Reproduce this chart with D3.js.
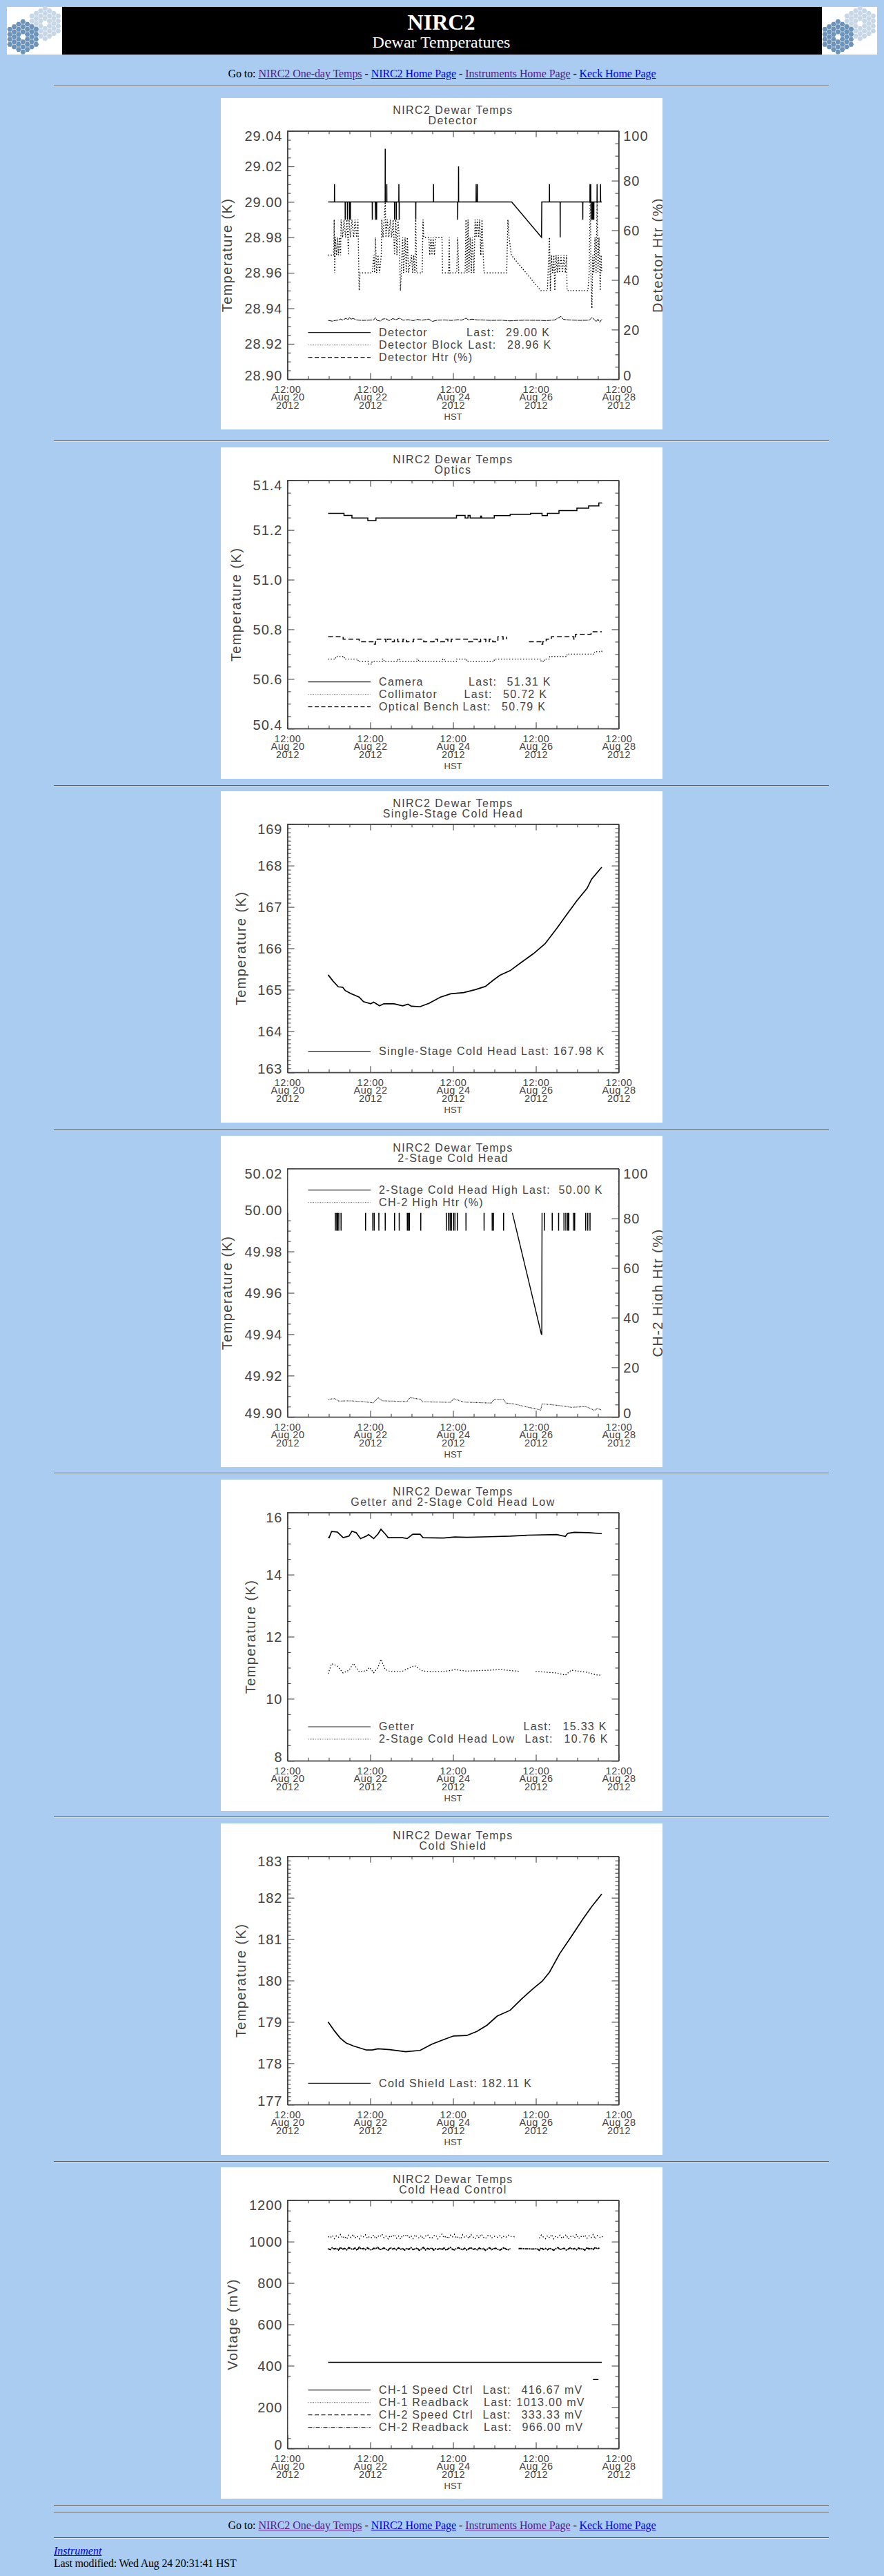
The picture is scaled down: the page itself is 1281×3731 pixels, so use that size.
<!DOCTYPE html>
<html><head><meta charset="utf-8"><title>NIRC2 Dewar Temperatures</title>
<script src="https://cdn.jsdelivr.net/npm/d3@7/dist/d3.min.js"></script>
<style>
html,body{margin:0;padding:0;background:#a9ccf0;width:1281px;height:3731px;overflow:hidden;font-family:"Liberation Serif",serif;font-size:16px;color:#000}
svg{position:absolute;left:0;top:0}
.nav{position:absolute;left:0;width:1281px;text-align:center;line-height:18px;letter-spacing:-.07px}
.nav a,.foot a{color:#00e}.nav a.v{color:#551a8b}
.foot{position:absolute;left:78px;line-height:18px}
.hr{position:absolute;left:78px;width:1123px;height:1px;background:#555;border-bottom:1px solid #d8e4ee}
.plot text{font-family:"Liberation Sans",sans-serif;fill:#444;stroke:none}
.plot .tickl{font-size:20px;letter-spacing:1px}
.plot .xl{font-size:14.5px;letter-spacing:.5px}
.plot .ttl{font-size:16px;letter-spacing:1.45px}
.plot .lg{font-size:16px;letter-spacing:1.3px}
.plot .ax{font-size:20px;letter-spacing:1.4px}
.plot .tick line,.plot .domain{stroke:#444;stroke-width:1.1}
</style></head><body>
<div class="nav" style="top:98px">Go to: <a class="v" href="#">NIRC2 One-day Temps</a> - <a href="#">NIRC2 Home Page</a> - <a class="v" href="#">Instruments Home Page</a> - <a href="#">Keck Home Page</a></div>
<div class="nav" style="top:3649px">Go to: <a class="v" href="#">NIRC2 One-day Temps</a> - <a href="#">NIRC2 Home Page</a> - <a class="v" href="#">Instruments Home Page</a> - <a href="#">Keck Home Page</a></div>
<div class="foot" style="top:3686px"><a href="#"><i>Instrument</i></a></div>
<div class="foot" style="top:3704px;letter-spacing:-.2px">Last modified: Wed Aug 24 20:31:41 HST</div>
<script>
// ---------- shared axis text ----------
const xTickHours=[0,48,96,144,192];
const xTickClock=["12:00","12:00","12:00","12:00","12:00"];
const xTickDates=["Aug 20","Aug 22","Aug 24","Aug 26","Aug 28"];
const xTickYears=["2012","2012","2012","2012","2012"];

// ---------- Detector ----------
const detectorUp=[[27.3,29.01],[56.7,29.03],[57.6,29.01],[64.6,29.01],[84.7,29.01],[99.2,29.02],[109.4,29.01],[110.1,29.01],[151.9,29.01],[175.4,29.01],[175.8,29.01],[179.5,29.01],[181.5,29.01]];
const detectorDown=[[33.5,28.99],[34.8,28.99],[36,28.99],[36.5,28.99],[49.2,28.99],[51,28.99],[51.7,28.99],[62.1,28.99],[63.1,28.99],[64.8,28.99],[74.4,28.99],[98.7,28.99],[158.1,28.98],[171.2,28.99],[176.3,28.99],[176.8,28.99],[177.1,28.99],[177.6,28.99]];
const detectorDrop=[[130,29],[147.3,28.98],[147.45,29]];
const detectorBlock=[[23.6,28.97],[26.9,28.97],[27.1,28.99],[27.4,28.96],[27.8,28.98],[28.5,28.97],[29,28.98],[29.6,28.97],[30.1,28.98],[30.8,28.97],[31.1,28.99],[32,28.98],[32.8,28.99],[33.7,28.98],[34.5,28.99],[35.4,28.97],[35.7,28.99],[36.5,28.98],[37.4,28.99],[38.4,28.98],[39.2,28.99],[40.1,28.98],[40.9,28.99],[41.6,28.95],[42.1,28.96],[49.2,28.96],[50,28.97],[50.5,28.96],[51,28.98],[51.7,28.96],[52.5,28.97],[53.4,28.96],[54.4,28.97],[54.7,28.99],[55.4,28.98],[56.1,28.99],[56.7,29],[57.1,28.98],[57.9,28.99],[58.8,28.98],[59.6,28.99],[60.4,28.98],[61.3,28.99],[62.1,28.97],[62.8,28.99],[63.5,28.97],[64.1,28.99],[64.8,28.98],[65.5,28.95],[66,28.96],[66.8,28.98],[67.3,28.96],[68.2,28.98],[68.9,28.96],[69.5,28.98],[70.2,28.96],[71.9,28.97],[72.6,28.96],[73.2,28.97],[73.9,28.96],[74.4,28.99],[74.9,28.96],[78.1,28.96],[78.6,28.99],[79,28.98],[82,28.98],[82.5,28.97],[83.2,28.98],[83.8,28.97],[84.5,28.98],[85.2,28.97],[85.9,28.98],[89.6,28.98],[89.9,28.96],[93.4,28.96],[93.8,28.98],[94.1,28.96],[98.1,28.96],[98.7,28.98],[99.3,28.96],[103,28.96],[103.5,28.99],[104.1,28.96],[104.7,28.99],[105.2,28.96],[105.9,28.98],[106.6,28.96],[107.2,28.98],[108.1,28.96],[108.8,28.99],[109.4,28.98],[110.1,28.99],[110.8,28.98],[111.4,28.99],[112.1,28.97],[112.8,28.99],[113.5,28.97],[114,28.96],[127.1,28.96],[127.8,28.99],[128.5,28.98],[129.8,28.97],[146.8,28.95],[150.7,28.95],[151.9,28.98],[152.4,28.95],[153,28.97],[153.7,28.96],[154.4,28.97],[155,28.95],[155.7,28.97],[156.4,28.96],[157,28.97],[157.7,28.96],[158.6,28.97],[159.4,28.96],[160.3,28.97],[161.1,28.96],[161.8,28.97],[162.1,28.95],[174.2,28.95],[174.9,28.96],[175.6,29.01],[175.9,28.96],[176.5,28.94],[177,28.97],[177.6,28.96],[178.3,28.98],[178.9,28.96],[179.5,29],[180,28.96],[180.6,28.98],[181.3,28.95],[181.8,28.97],[182.2,28.96]];
const detectorHtr=[[23.6,23.7],[26,23.4],[28,23.7],[30,23.9],[31,24.3],[31.7,23.8],[33,24.2],[34,24.6],[35,23.9],[36,24.9],[36.7,24.1],[38,24.5],[40,23.9],[43,23.7],[47,23.8],[50,23.9],[51,24.8],[52,23.7],[54,23.4],[55,24.2],[57,24.4],[59,23.6],[61,24.4],[63,24],[65,24.6],[67,23.8],[70,24],[73,23.6],[75,24.1],[78,23.8],[82,24.2],[84,23.3],[87,23.8],[91,23.9],[95,23.7],[99,24],[101,23.8],[103.5,24.6],[105,23.9],[107,24.2],[110,23.9],[113,23.9],[118,23.7],[124,23.8],[129,23.5],[133,23.7],[138,23.8],[147,23.7],[150,23.6],[155,23.9],[158.5,25.3],[160,24.1],[163,23.9],[170,23.7],[175,23.8],[176.5,24.9],[178,24],[179,23.2],[180,24.2],[181,23],[182.2,24.1]];

// ---------- Optics ----------
const cameraTemp=[[23.6,51.267],[32.8,51.259],[37.4,51.248],[46.6,51.238],[51.3,51.248],[98,51.259],[103,51.248],[104.7,51.259],[105.9,51.248],[112,51.256],[112.5,51.248],[119.9,51.258],[129.1,51.263],[140.9,51.267],[147.6,51.258],[150.7,51.267],[157.4,51.278],[167.8,51.288],[174.6,51.297],[180.5,51.309],[182.2,51.31]];
const collimatorTemp=[[23.6,50.68],[28,50.69],[33,50.68],[41,50.67],[47,50.66],[49,50.67],[55,50.68],[56,50.67],[64,50.68],[65,50.67],[75,50.68],[76,50.67],[90,50.68],[91,50.67],[98,50.68],[104,50.67],[119.9,50.68],[147,50.67],[149,50.68],[152,50.69],[162,50.7],[172,50.7],[178,50.71],[182.2,50.72]];
const benchTemp=[[23.6,50.77],[32.3,50.76],[41.6,50.75],[50,50.74],[51,50.75],[52,50.76],[57,50.75],[58,50.76],[60,50.75],[62,50.76],[64,50.75],[67,50.76],[69,50.75],[73,50.76],[79,50.75],[85,50.76],[87,50.75],[91,50.76],[93,50.75],[95,50.76],[105,50.75],[108,50.76],[110,50.75],[112,50.76],[115,50.75],[117,50.76],[119,50.75],[122,50.77],[125,50.76],[127,50.77],[130,null],[134,50.76],[135,null],[140,50.75],[147.5,50.74],[148,50.75],[150,50.76],[153,50.77],[165,50.77],[166,50.76],[167,50.78],[173,50.78],[176,50.79],[182.2,50.79]];

// ---------- Single-stage cold head ----------
const singleStage=[[23.6,165.36],[26.4,165.21],[29.5,165.07],[32,165.06],[33.5,164.98],[36.5,164.91],[41.6,164.82],[44.1,164.71],[48.3,164.66],[50,164.7],[53.4,164.61],[55.9,164.66],[61.8,164.66],[66.8,164.61],[69.9,164.65],[71.9,164.6],[76.9,164.59],[82,164.67],[88.7,164.82],[94.6,164.9],[102.2,164.93],[108.9,165],[114.8,165.08],[119,165.22],[123.2,165.35],[129.1,165.46],[135.9,165.67],[142.6,165.87],[149.3,166.11],[156.1,166.48],[162,166.82],[167.8,167.15],[173.7,167.45],[176.3,167.67],[182.2,167.96]];

// ---------- 2-stage cold head ----------
const twoStageSpikes=[27.8,28.6,29.1,29.8,31.1,45.3,49.5,50.3,53,56.7,62.1,64.8,69.5,70.2,70.7,77.3,92.1,93.4,94.3,95.1,96.3,97.1,98.5,103.5,114,118.7,119.5,125.3,149,153.5,157.2,160.3,161.4,162.5,163.1,165.7,166.5,172.9,174.1,175.4];
const twoStageDrop=[[130,50],[147.2,49.94],[147.45,49.94],[147.5,49.97],[147.6,50]];
const ch2Htr=[[23.6,7.1],[27.3,7.4],[29.8,6.4],[36.5,6.5],[43.3,6.2],[49.7,5.7],[52.5,7.8],[55.1,6.5],[69.4,6.2],[71,7.8],[77.3,7.1],[78.3,6.1],[94.6,5.9],[96.3,7.4],[102.2,6],[118.2,5.6],[119.9,7.1],[125.4,6.9],[126.6,5.6],[130.8,5.3],[146.8,2.8],[147.6,5.3],[157.7,4.6],[164.5,3.9],[172.9,4.2],[177.9,2.7],[179.6,3.4],[182.2,2.8]];

// ---------- Getter and low ----------
const getterTemp=[[23.6,15.21],[24.2,15.19],[25.6,15.39],[29,15.37],[32.3,15.19],[35.7,15.24],[37.4,15.4],[39.9,15.35],[42.4,15.16],[45.8,15.24],[47,15.29],[50,15.16],[52.5,15.31],[54.2,15.46],[56.7,15.31],[58.4,15.19],[66.8,15.19],[69.4,15.16],[72.7,15.3],[76.9,15.3],[78.6,15.19],[90.4,15.18],[97.1,15.21],[103.9,15.2],[117.3,15.22],[129.1,15.24],[139.2,15.27],[156.1,15.29],[161.1,15.23],[162.5,15.33],[166.2,15.36],[174.6,15.35],[182.2,15.32]];
const lowTemp=[[23.6,10.81],[25.6,11.13],[29,11.05],[32.3,10.83],[35.7,10.92],[38.2,11.14],[41.6,10.87],[45.8,10.9],[47.5,11.01],[50,10.84],[52.5,11.01],[54.2,11.27],[56.7,10.94],[60.1,10.87],[66.8,10.89],[73.6,11.07],[78.6,10.89],[90.4,10.87],[97.1,10.94],[103.9,10.89],[117.3,10.92],[123.2,10.94],[135,10.88],[136,null],[143.9,10.88],[156.1,10.83],[161.1,10.76],[164.5,10.92],[173.7,10.85],[178.8,10.77],[182.2,10.76]];

// ---------- Cold shield ----------
const coldShield=[[23.6,179],[27.3,178.78],[30.6,178.61],[34,178.49],[38.2,178.42],[45.8,178.32],[49.2,178.32],[52.5,178.35],[59.3,178.33],[68.5,178.28],[76.9,178.31],[83.7,178.46],[90.4,178.57],[96.3,178.66],[103.9,178.67],[109.8,178.77],[115.7,178.92],[121.6,179.14],[129.1,179.28],[135.9,179.56],[142.6,179.81],[147.6,179.98],[151.9,180.2],[157.7,180.64],[164.5,181.06],[171.2,181.48],[176.3,181.78],[182.2,182.09]];

// ---------- Cold head control ----------
const ch1Speed=[[23.6,416.67],[182.2,416.67]];
const ch2Speed=[[23.6,333.33],[182.2,333.33]];
const ch1Readback=[1024,1018,1030,1014,1028,1021,1034,1016,1026,1012,1031,1020,1035,1017,1027,1013,1029,1023,1033,1015,1025,1019,1032,1014,1028,1022,1036,1018,1026,1013,1030,1021,1034,1016,1027,1012,1031,1024,1035,1019,1029,1014,1033,1022,1017,1030,1012,1026,1034,1020,1015,1028,1032,1013,1024,1036,1018,1027,1014,1031,1021,1035,1016,1025,1012,1033,1019,1029,1015,1034,1023,1013,1030,1018,1036,1021,1014,1028,1032,1017,1026,1024,1020,1029,1016,1027,1022,1031,1024,1026,1023,1025,null,1024,null,1018,null,null,1020,null,1012,null,1016,1032,1021,1014,1029,1018,1034,1013,1027,1020,1031,1015,1025,1033,1012,1023,1030,1017,1035,1014,1026,1021,1032,1016,1028,1019,1034,1013,1029,1022,1018,1031];
const ch2Readback=[966,961,970,964,968,959,972,963,967,960,971,965,962,969,958,973,964,967,961,970,963,959,968,966,972,960,965,969,962,958,971,964,967,960,970,963,966,959,968,962,971,961,965,969,958,964,972,960,967,963,970,959,966,962,968,961,969,958,965,972,963,960,967,970,964,961,968,959,966,971,962,965,960,969,963,967,958,964,970,961,966,968,962,959,965,971,963,960,967,null,null,null,966,966,966,965,965,965,964,964,965,965,958,970,962,967,960,969,963,958,966,971,961,965,968,959,964,970,962,967,960,969,963,966,958,971,964,968,961,972,965,969];

// ---------- legends ----------
const legendDetector=[["Detector","Last:","29.00 K"],["Detector Block","Last:","28.96 K"],["Detector Htr (%)","",""]];
const legendOptics=[["Camera","Last:","51.31 K"],["Collimator","Last:","50.72 K"],["Optical Bench","Last:","50.79 K"]];
const legendSingle=[["Single-Stage Cold Head Last: 167.98 K","",""]];
const legendTwo=[["2-Stage Cold Head High Last:  50.00 K","",""],["CH-2 High Htr (%)","",""]];
const legendGetter=[["Getter","Last:","15.33 K"],["2-Stage Cold Head Low","Last:","10.76 K"]];
const legendShield=[["Cold Shield Last: 182.11 K","",""]];
const legendControl=[["CH-1 Speed Ctrl","Last:","416.67 mV"],["CH-1 Readback","Last:","1013.00 mV"],["CH-2 Speed Ctrl","Last:","333.33 mV"],["CH-2 Readback","Last:","966.00 mV"]];

// ---------- series built from what was read ----------
function spiked(start,end,level,spikes,extra){
  const pts=[[start,level],[end,level]];
  spikes.forEach(([h,v])=>pts.push([h-.05,level],[h,v],[h+.05,level]));
  return pts.concat(extra).sort((a,b)=>a[0]-b[0]);
}
const detectorTemp=spiked(23.6,182.2,29,detectorUp.concat(detectorDown),detectorDrop)
  .filter(d=>!(d[0]>130&&d[0]<147.2));
const twoStageHigh=spiked(23.6,182.2,50,twoStageSpikes.map(h=>[h,49.99]),twoStageDrop)
  .filter(d=>!(d[0]>130&&d[0]<147.2));
const readHours=ch1Readback.map((_,i)=>23.6+i*1.2);
const ch1Series=ch1Readback.map((v,i)=>[readHours[i],v]);
const ch2Series=ch2Readback.map((v,i)=>[readHours[i],v]);

const SOLID=null, DOT="1.4,2.6", DASH="6,3.5", DASHDOT="6,2,1,2";
const panels=[
 {top:142,title:"Detector",dom:[28.9,29.04],major:.02,sub:4,fmt:".2f",axisX:16,ylabel:"Temperature (K)",
  right:"Detector Htr (%)",legendY:292,legend:legendDetector,cols:[[259.6,316.5],[261.8,318.6]],
  series:[{d:detectorTemp,w:1.5},{d:detectorBlock,dash:DOT,w:1.4},{d:detectorHtr,right:true,dash:"7,1",w:1}],styles:[SOLID,DOT,DASH]},
 {top:648,title:"Optics",dom:[50.4,51.4],major:.2,sub:4,fmt:".1f",axisX:28.7,ylabel:"Temperature (K)",
  legendY:292,legend:legendOptics,cols:[[262.5,318],[256,312.5],[254,310.5]],
  series:[{d:cameraTemp,w:1.5,step:true},{d:collimatorTemp,dash:DOT,w:1.3,step:true},{d:benchTemp,dash:"7,4",w:1.5,step:true}],styles:[SOLID,DOT,DASH]},
 {top:1146,title:"Single-Stage Cold Head",dom:[163,169],major:1,sub:10,fmt:"d",axisX:36.3,ylabel:"Temperature (K)",
  legendY:329,legend:legendSingle,series:[{d:singleStage,w:1.7}],styles:[SOLID]},
 {top:1645,title:"2-Stage Cold Head",dom:[49.9,50.02],major:.02,sub:4,fmt:".2f",axisX:16,ylabel:"Temperature (K)",
  right:"CH-2 High Htr (%)",legendY:31,legend:legendTwo,mask:[0,64,null],
  series:[{d:twoStageHigh,w:1.4},{d:ch2Htr,right:true,dash:"1.2,1",w:1.1,c:"#222"}],styles:[SOLID,DOT]},
 {top:2143,title:"Getter and 2-Stage Cold Head Low",dom:[8,16],major:2,sub:4,fmt:"d",axisX:49.8,ylabel:"Temperature (K)",
  legendY:310.3,legend:legendGetter,cols:[[342,399],[344,401]],
  series:[{d:getterTemp,w:1.7},{d:lowTemp,dash:DOT,w:1.3}],styles:[SOLID,DOT]},
 {top:2641,title:"Cold Shield",dom:[177,183],major:1,sub:10,fmt:"d",axisX:36.3,ylabel:"Temperature (K)",
  legendY:328.7,legend:legendShield,series:[{d:coldShield,w:1.7}],styles:[SOLID]},
 {top:3139,title:"Cold Head Control",dom:[0,1200],major:200,sub:4,fmt:"d",axisX:23.7,ylabel:"Voltage (mV)",
  legendY:275,legend:legendControl,cols:[[283,339],[284.5,332],[283,339],[284.5,340]],mask:[258,340,176.3],
  series:[{d:ch1Speed,w:1.4},{d:ch1Series,dash:"1.4,3",w:1.4},{d:ch2Speed,dash:"8,5",offset:6.25,w:1.3},{d:ch2Series,dash:"5,1,2,1",w:1.9}],styles:[SOLID,DOT,DASH,DASHDOT]}
];

const svg=d3.select("body").append("svg").attr("width",1281).attr("height",3731);

// ---------- banner ----------
const banner=svg.append("g");
banner.append("rect").attr("x",90).attr("y",10).attr("width",1101).attr("height",69).attr("fill","#000");
[10,1191].forEach(x0=>{
  const g=banner.append("g").attr("transform",`translate(${x0},10)`);
  g.append("rect").attr("width",80).attr("height",69).attr("fill","#fff");
  const flower=(cx,cy,col)=>{
    const r=3,dx=6.35,dy=7.3;
    for(let q=-r;q<=r;q++)for(let s=-r;s<=r;s++){
      if(Math.abs(q+s)>r||(q===0&&s===0))continue;
      const hx=cx+q*dx,hy=cy+(s+q/2)*dy,R=3.9;
      g.append("path").attr("fill",col)
       .attr("d",d3.range(6).map(i=>(i?"L":"M")+(hx+R*Math.cos(i*Math.PI/3))+","+(hy+R*Math.sin(i*Math.PI/3))).join("")+"Z");
    }
  };
  flower(55.3,24,"#c7d7e6");
  flower(23.3,43.3,"#6c93b9");
});
banner.append("text").attr("x",639.5).attr("y",42.7).attr("text-anchor","middle").attr("fill","#fff")
  .style("font","bold 32px 'Liberation Serif'").text("NIRC2");
banner.append("text").attr("x",639.5).attr("y",69.3).attr("text-anchor","middle").attr("fill","#fff")
  .style("font","24px 'Liberation Serif'").text("Dewar Temperatures");

// ---------- rules ----------
[124,638,1137,1635,2133,2631,3130,3628,3638,3675].forEach(y=>{
  d3.select("body").append("div").attr("class","hr").style("top",y+"px");
});

// ---------- panels ----------
const FW=480,FH=359.6,FL=96.5,FT=47.7;
panels.forEach((p,pi)=>{
  const root=svg.append("g").attr("class","plot").attr("transform",`translate(320,${p.top})`);
  root.append("clipPath").attr("id","clip"+pi).append("rect").attr("width",640).attr("height",480);
  const c=root.append("g").attr("clip-path",`url(#clip${pi})`);
  c.append("rect").attr("width",640).attr("height",480).attr("fill","#fff");
  const fr=c.append("g").attr("transform",`translate(${FL},${FT})`);
  const x=d3.scaleLinear().domain([0,192]).range([0,FW]);
  const y=d3.scaleLinear().domain(p.dom).range([FH,0]);
  const yR=d3.scaleLinear().domain([0,100]).range([FH,0]);

  const n=Math.round((p.dom[1]-p.dom[0])/p.major);
  const majors=d3.range(n+1).map(i=>p.dom[0]+i*p.major);
  const minors=d3.range(n*p.sub+1).map(i=>p.dom[0]+i*p.major/p.sub).filter((v,i)=>i%p.sub);
  const xMinor=d3.range(0,193,12).filter(h=>h%48);

  const call=(axis,tr)=>fr.append("g").attr("transform",tr||"").call(axis);
  call(d3.axisBottom(x).tickValues(xMinor).tickSize(-4.5).tickSizeOuter(0).tickFormat(""),`translate(0,${FH})`);
  call(d3.axisTop(x).tickValues(xMinor).tickSize(-4.5).tickSizeOuter(0).tickFormat(""));
  call(d3.axisTop(x).tickValues(xTickHours).tickSize(-9).tickSizeOuter(0).tickFormat(""));
  const xg=call(d3.axisBottom(x).tickValues(xTickHours).tickSize(-9).tickSizeOuter(0),`translate(0,${FH})`);
  xg.selectAll(".tick text").attr("dy",null).attr("y",null).text(null).attr("class","xl").attr("text-anchor","middle")
    .selectAll("tspan").data((h,i)=>[xTickClock[i],xTickDates[i],xTickYears[i]]).join("tspan")
    .attr("x",0).attr("y",(d,i)=>19.5+i*11.7).text(d=>d);

  call(d3.axisLeft(y).tickValues(minors).tickSize(-5).tickSizeOuter(0).tickFormat(""));
  const yg=call(d3.axisLeft(y).tickValues(majors).tickSize(-10).tickSizeOuter(0).tickPadding(7).tickFormat(d3.format(p.fmt)));
  const edgeShift=(sel,arr)=>sel.selectAll(".tick text").attr("class","tickl")
     .attr("dy",(d,i)=>i===0?"-5.7px":i===arr.length-1?"6.6px":"0").attr("y",6.8);
  edgeShift(yg,majors);
  if(p.right){
    call(d3.axisRight(yR).tickValues(d3.range(0,101,5).filter(v=>v%20)).tickSize(-5).tickSizeOuter(0).tickFormat(""),`translate(${FW},0)`);
    const rg=call(d3.axisRight(yR).tickValues(d3.range(0,101,20)).tickSize(-10).tickSizeOuter(0).tickPadding(6.7),`translate(${FW},0)`);
    edgeShift(rg,d3.range(0,101,20));
  }else{
    call(d3.axisRight(y).tickValues(minors).tickSize(-5).tickSizeOuter(0).tickFormat(""),`translate(${FW},0)`);
    call(d3.axisRight(y).tickValues(majors).tickSize(-10).tickSizeOuter(0).tickFormat(""),`translate(${FW},0)`);
  }

  // series
  p.series.forEach(s=>{
    const sy=s.right?yR:y;
    const line=d3.line().defined(d=>d[1]!=null).x(d=>x(d[0])).y(d=>sy(d[1]));
    if(s.step)line.curve(d3.curveStepAfter);
    fr.append("path").datum(s.d).attr("d",line).attr("fill","none")
      .attr("stroke",s.c||"#000").attr("stroke-width",s.w).attr("stroke-dasharray",s.dash||null)
      .attr("stroke-dashoffset",s.offset||null);
  });

  // legend mask
  if(p.mask){
    const right=p.mask[2]==null?FW-1:x(p.mask[2]);
    fr.append("rect").attr("x",1).attr("y",p.mask[0]?p.mask[0]:1).attr("width",right-1)
      .attr("height",p.mask[1]-(p.mask[0]||1)).attr("fill","#fff");
  }

  // frame
  fr.append("rect").attr("width",FW).attr("height",FH).attr("fill","none").attr("stroke","#444").attr("stroke-width",1.2);

  // legend
  p.legend.forEach((row,i)=>{
    const ly=p.legendY+i*18, dotted=p.styles[i]===DOT;
    fr.append("line").attr("x1",30).attr("x2",120.5).attr("y1",ly).attr("y2",ly)
      .attr("stroke",dotted?"#555":"#222").attr("stroke-width",dotted?1:1.2)
      .attr("stroke-dasharray",dotted?"1,1.5":p.styles[i]);
    fr.append("text").attr("class","lg").attr("x",132.6).attr("y",ly+5.5).style("white-space","pre").text(row[0]);
    if(row[1]){
      const col=p.cols[i]||p.cols[p.cols.length-1];
      fr.append("text").attr("class","lg").attr("x",col[0]).attr("y",ly+5.5).text(row[1]);
      fr.append("text").attr("class","lg").attr("x",col[1]).attr("y",ly+5.5).text(row[2]);
    }
  });

  // titles
  const tc=FL+FW/2;
  c.append("text").attr("class","ttl").attr("x",tc).attr("y",22.7).attr("text-anchor","middle").text("NIRC2 Dewar Temps");
  c.append("text").attr("class","ttl").attr("x",tc).attr("y",37.7).attr("text-anchor","middle").text(p.title);
  c.append("text").attr("x",tc).attr("y",FT+FH+59).attr("text-anchor","middle").style("font-size","13px").text("HST");
  c.append("text").attr("class","ax").attr("text-anchor","middle")
    .attr("transform",`translate(${p.axisX},${FT+FH/2}) rotate(-90)`).text(p.ylabel);
  if(p.right) c.append("text").attr("class","ax").attr("text-anchor","middle")
    .attr("transform",`translate(639.5,${FT+FH/2}) rotate(-90)`).text(p.right);
});
</script>
</body></html>
